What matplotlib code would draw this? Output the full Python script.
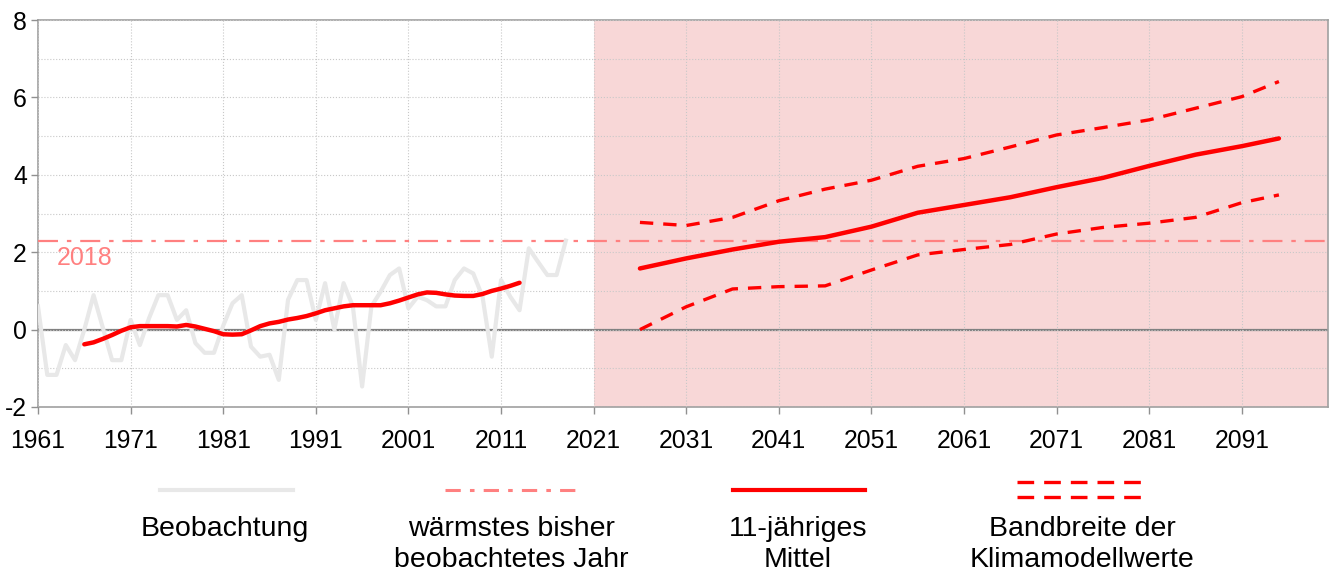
import numpy as np
import matplotlib
matplotlib.use("Agg")
import matplotlib.pyplot as plt
from matplotlib.lines import Line2D
from matplotlib.ticker import MultipleLocator

plt.rcParams['font.family'] = ['Liberation Sans', 'DejaVu Sans']
plt.rcParams['axes.unicode_minus'] = False

# observed annual anomalies (grey)
obs_years = list(range(1961, 2019))
obs_values = [0.6, -1.17, -1.17, -0.4, -0.79, 0.0, 0.89, 0.05, -0.79, -0.79,
              0.25, -0.4, 0.3, 0.89, 0.89, 0.25, 0.5, -0.35, -0.6, -0.6,
              0.1, 0.68, 0.89, -0.44, -0.7, -0.65, -1.3, 0.77, 1.28, 1.28,
              0.25, 1.2, 0.0, 1.2, 0.6, -1.47, 0.6, 0.98, 1.41, 1.58,
              0.55, 0.85, 0.76, 0.6, 0.6, 1.28, 1.58, 1.45, 0.85, -0.7,
              1.28, 0.85, 0.5, 2.1, 1.75, 1.41, 1.41, 2.3]

# 11-year running mean of observations
mean_years = list(range(1966, 2014))
mean_values = [-0.38, -0.33, -0.24, -0.14, -0.03, 0.06, 0.09, 0.09, 0.09, 0.09,
               0.08, 0.12, 0.08, 0.02, -0.04, -0.12, -0.13, -0.12, -0.02, 0.09,
               0.16, 0.2, 0.26, 0.3, 0.35, 0.42, 0.5, 0.55, 0.6, 0.63,
               0.63, 0.63, 0.63, 0.68, 0.75, 0.83, 0.91, 0.96, 0.95, 0.91,
               0.88, 0.87, 0.87, 0.92, 1.0, 1.06, 1.13, 1.21]

# projection: 11-year mean and model range
proj_years = [2026, 2031, 2036, 2041, 2046, 2051, 2056, 2061, 2066, 2071,
              2076, 2081, 2086, 2091, 2095]
proj_mean = [1.58, 1.84, 2.07, 2.27, 2.39, 2.66, 3.02, 3.22, 3.42, 3.68,
             3.92, 4.23, 4.52, 4.74, 4.94]
proj_upper = [2.77, 2.69, 2.9, 3.33, 3.63, 3.86, 4.22, 4.42, 4.72, 5.03,
              5.22, 5.42, 5.72, 6.02, 6.41]
proj_lower = [0.0, 0.59, 1.05, 1.11, 1.13, 1.54, 1.93, 2.07, 2.2, 2.47,
              2.64, 2.75, 2.9, 3.28, 3.48]

warmest_year = 2018
warmest_value = 2.3
x_ticks = list(range(1961, 2092, 10))

red = '#ff0000'
pink = '#ff8080'

fig = plt.figure(figsize=(13.3, 5.72), dpi=100)
ax = fig.add_axes([38 / 1330, 1 - 407 / 572, 1290 / 1330, 387 / 572])

ax.axvspan(2021, 2101, color='#f8d7d7', zorder=0, lw=0)
ax.axhline(0, color='#808080', lw=1.6, zorder=2)
ax.axhline(warmest_value, color=pink, lw=1.6, dashes=(9, 4, 2, 4), zorder=3)

ax.plot(obs_years, obs_values, color='#e8e8e8', lw=3.0, zorder=3)
ax.plot(mean_years, mean_values, color=red, lw=3.2, zorder=4, solid_capstyle='round')
ax.plot(proj_years, proj_mean, color=red, lw=3.2, zorder=4, solid_capstyle='round')
ax.plot(proj_years, proj_upper, color=red, lw=2.4, dashes=(4, 3), zorder=4)
ax.plot(proj_years, proj_lower, color=red, lw=2.4, dashes=(4, 3), zorder=4)

ax.text(1963, 1.85, str(warmest_year), color=pink, fontsize=18, va='center')

ax.set_xlim(1961, 2100.3)
ax.set_ylim(-2, 8)
ax.set_xticks(x_ticks)
ax.set_yticks(range(-2, 9, 2))
ax.yaxis.set_minor_locator(MultipleLocator(1))
ax.tick_params(axis='both', labelsize=17.8, color='#909090', length=5, width=1)
ax.tick_params(axis='y', which='minor', length=0)
ax.tick_params(axis='y', pad=3)
ax.tick_params(axis='x', pad=11)
ax.grid(axis='x', which='major', color='#c8c8c8', ls=':', lw=0.8)
ax.grid(axis='y', which='both', color='#c8c8c8', ls=':', lw=0.8)
ax.set_axisbelow(False)
for sp in ax.spines.values():
    sp.set_color('#a0a0a0')
    sp.set_linewidth(1.2)

# legend drawn below the plot
def fy(py):
    return 1 - py / 572

def fx(px):
    return px / 1330

fig.add_artist(Line2D([fx(160), fx(293)], [fy(490), fy(490)], color='#e8e8e8', lw=3.0))
fig.add_artist(Line2D([fx(445), fx(580)], [fy(490), fy(490)], color=pink, lw=2.2, dashes=(5, 3, 1.5, 3)))
fig.add_artist(Line2D([fx(733), fx(865)], [fy(490), fy(490)], color=red, lw=3.0))
fig.add_artist(Line2D([fx(1017), fx(1142)], [fy(482), fy(482)], color=red, lw=2.4, dashes=(5, 3)))
fig.add_artist(Line2D([fx(1017), fx(1142)], [fy(497), fy(497)], color=red, lw=2.4, dashes=(5, 3)))

labels = [['Beobachtung'], ['wärmstes bisher', 'beobachtetes Jahr'], ['11-jähriges', 'Mittel'],
          ['Bandbreite der', 'Klimamodellwerte']]
for cx, lines in zip([225, 511, 798, 1082], labels):
    for i, line in enumerate(lines):
        fig.text(fx(cx), fy(529 + 31 * i), line, ha='center', va='center', fontsize=20.5)

fig.savefig('out.png', dpi=100)
